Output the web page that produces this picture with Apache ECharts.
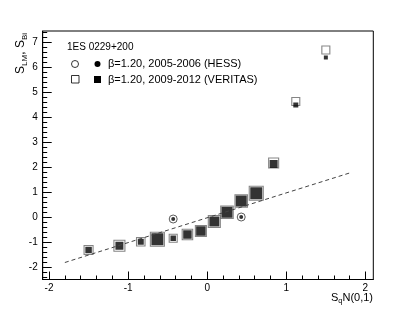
<!DOCTYPE html>
<html>
<head>
<meta charset="utf-8">
<script src="https://cdn.jsdelivr.net/npm/echarts@6/dist/echarts.min.js"></script>
<style>
html,body{margin:0;padding:0;background:#fff;}
#c{width:415px;height:311px;}
</style>
</head>
<body>
<div id="c"></div>
<script>
// ---- data ----
var sqN = [-1.50, -1.11, -0.84, -0.63, -0.43, -0.25, -0.08, 0.09, 0.25, 0.43, 0.62, 0.84, 1.12, 1.50];
var veritasOpen = [-1.30, -1.13, -0.97, -0.87, -0.83, -0.68, -0.54, -0.16, 0.21, 0.66, 0.97, 2.18, 4.64, 6.70];
var veritasFilled = [-1.30, -1.13, -0.97, -0.87, -0.83, -0.68, -0.54, -0.16, 0.21, 0.66, 0.97, 2.14, 4.50, 6.40];
var veritasOpenSize = [9, 11, 8.5, 14, 8, 10.5, 11, 12, 12.5, 12.5, 14, 10, 8, 8];
var veritasFilledSize = [6.5, 8, 6, 12, 5.5, 8.5, 9.5, 10, 11, 11, 12, 8, 5, 4];
var hessX = [-0.43, 0.43];
var hessOpen = [-0.06, 0.02];
var hessFilled = [-0.06, 0.02];
var refLineX = [-1.8, 1.8];
var refLineY = [-1.8, 1.78];
var xMajor = [-2, -1, 0, 1, 2];
var yMajor = [-2, -1, 0, 1, 2, 3, 4, 5, 6, 7];

function minorTicks(a, b) {
  var out = [];
  for (var i = Math.round(a * 5); i <= Math.round(b * 5); i++) {
    if (i % 5 !== 0) out.push(i / 5);
  }
  return out;
}
var xMinor = minorTicks(-2.0, 2.0);
var yMinor = minorTicks(-2.4, 7.4);

function pairs(xs, ys) { return xs.map(function (x, i) { return [x, ys[i]]; }); }

var FONT = "'Liberation Sans', Arial, Helvetica, sans-serif";
var XMIN = -2.08, XMAX = 2.1, YMIN = -2.48, YMAX = 7.46;

var chart = echarts.init(document.getElementById('c'), null, {renderer: 'canvas'});
chart.setOption({
  animation: false,
  backgroundColor: '#fff',
  grid: {left: 42.7, top: 31, right: 41.7, bottom: 31.5, show: true, borderColor: '#000', borderWidth: 1, backgroundColor: 'transparent'},
  xAxis: [
    {type: 'value', min: XMIN, max: XMAX, position: 'bottom',
      splitLine: {show: false},
      axisLine: {show: true, onZero: false, lineStyle: {color: '#000', width: 1}},
      axisTick: {show: true, inside: true, length: 8, customValues: xMajor, lineStyle: {color: '#000'}},
      axisLabel: {show: true, customValues: xMajor, margin: 4, color: '#000', fontSize: 10, fontFamily: FONT}},
    {type: 'value', min: XMIN, max: XMAX, position: 'bottom',
      splitLine: {show: false},
      axisLine: {show: false, onZero: false},
      axisTick: {show: true, inside: true, length: 4, customValues: xMinor, lineStyle: {color: '#000'}},
      axisLabel: {show: false}}
  ],
  yAxis: [
    {type: 'value', min: YMIN, max: YMAX, position: 'left',
      splitLine: {show: false},
      axisLine: {show: true, onZero: false, lineStyle: {color: '#000', width: 1}},
      axisTick: {show: true, inside: true, length: 9, customValues: yMajor, lineStyle: {color: '#000'}},
      axisLabel: {show: true, customValues: yMajor, margin: 5, color: '#000', fontSize: 10, fontFamily: FONT}},
    {type: 'value', min: YMIN, max: YMAX, position: 'left',
      splitLine: {show: false},
      axisLine: {show: false, onZero: false},
      axisTick: {show: true, inside: true, length: 4.5, customValues: yMinor, lineStyle: {color: '#000'}},
      axisLabel: {show: false}}
  ],
  series: [
    {type: 'line', data: pairs(refLineX, refLineY), symbol: 'none', silent: true,
      lineStyle: {color: '#444', width: 1, type: [4, 3]}},
    {type: 'scatter', data: pairs(sqN, veritasOpen), symbol: 'rect',
      symbolSize: function (v, p) { return veritasOpenSize[p.dataIndex]; },
      itemStyle: {color: 'rgba(255,255,255,0)', borderColor: '#666', borderWidth: 1.1}},
    {type: 'scatter', data: pairs(sqN, veritasFilled), symbol: 'rect',
      symbolSize: function (v, p) { return veritasFilledSize[p.dataIndex]; },
      itemStyle: {color: '#000'}},
    {type: 'scatter', data: pairs(hessX, hessOpen), symbol: 'circle', symbolSize: 8,
      itemStyle: {color: 'rgba(255,255,255,0)', borderColor: '#333', borderWidth: 1}},
    {type: 'scatter', data: pairs(hessX, hessFilled), symbol: 'circle', symbolSize: 4,
      itemStyle: {color: '#000'}}
  ],
  graphic: [
    {type: 'text', x: 67, y: 47, style: {text: '1ES 0229+200', font: '10px ' + FONT, fill: '#000', textVerticalAlign: 'middle'}},
    {type: 'circle', shape: {cx: 75, cy: 64, r: 3.5}, style: {fill: 'none', stroke: '#000', lineWidth: 0.8}},
    {type: 'circle', shape: {cx: 97.5, cy: 64, r: 3}, style: {fill: '#000'}},
    {type: 'text', x: 108, y: 64, style: {text: 'β=1.20, 2005-2006 (HESS)', font: '11px ' + FONT, fill: '#000', textVerticalAlign: 'middle'}},
    {type: 'rect', shape: {x: 71.5, y: 75.5, width: 7.5, height: 7.5}, style: {fill: 'none', stroke: '#000', lineWidth: 0.8}},
    {type: 'rect', shape: {x: 94, y: 76, width: 7, height: 7}, style: {fill: '#000'}},
    {type: 'text', x: 108, y: 79.5, style: {text: 'β=1.20, 2009-2012 (VERITAS)', font: '11px ' + FONT, fill: '#000', textVerticalAlign: 'middle'}},
    {type: 'text', x: 21, y: 33, rotation: Math.PI / 2,
      style: {text: '{m|S}{s|LM}{m|, S}{s|Bi}', align: 'right', verticalAlign: 'middle',
        rich: {m: {fontSize: 12, fontFamily: FONT, fill: '#000', lineHeight: 16},
               s: {fontSize: 8, fontFamily: FONT, fill: '#000', lineHeight: 16, padding: [7, 0, 0, 0]}}}},
    {type: 'text', x: 373, y: 298,
      style: {text: '{m|S}{s|q}{m|N(0,1)}', align: 'right', verticalAlign: 'middle',
        rich: {m: {fontSize: 11, fontFamily: FONT, fill: '#000', lineHeight: 14},
               s: {fontSize: 7.5, fontFamily: FONT, fill: '#000', lineHeight: 14, padding: [6, 0, 0, 0]}}}}
  ]
});
</script>
</body>
</html>
